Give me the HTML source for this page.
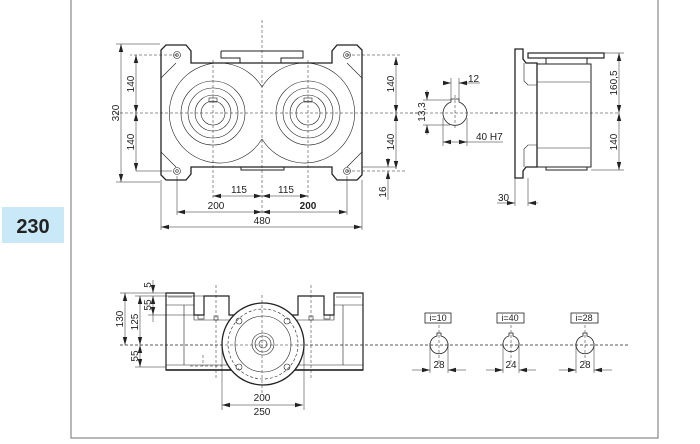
<!DOCTYPE html>
<html><head><meta charset="utf-8"><style>
html,body{margin:0;padding:0;background:#fff;}
svg{display:block;font-family:"Liberation Sans",Arial,sans-serif;}
text{font-size:10px;fill:#222;}
</style></head><body>
<svg width="700" height="444" viewBox="0 0 700 444">
<defs>
<marker id="a" markerWidth="8" markerHeight="6" refX="8" refY="3" orient="auto-start-reverse" markerUnits="userSpaceOnUse"><path d="M0,0.8 L8,3 L0,5.2z" fill="#222"/></marker>
</defs>
<rect x="71" y="-2" width="587" height="440" fill="none" stroke="#888" stroke-width="1.2"/>
<rect x="2" y="207" width="62" height="36" fill="#c9e9f9"/>
<text x="33" y="233" text-anchor="middle" style="font-size:20px;font-weight:bold;fill:#222">230</text>

<g fill="none" stroke="#222" stroke-width="0.6">
<g stroke-dasharray="3,2" stroke-width="0.5">
<line x1="262" y1="20" x2="262" y2="215"/>
<line x1="115" y1="113" x2="420" y2="113"/>
<line x1="213" y1="60" x2="213" y2="200"/>
<line x1="308" y1="60" x2="308" y2="200"/>
<line x1="177" y1="55" x2="130" y2="55"/>
<line x1="347" y1="55" x2="400" y2="55"/>
<line x1="347" y1="171" x2="405" y2="171"/>
<line x1="410" y1="113" x2="500" y2="113"/>
<line x1="455" y1="95" x2="455" y2="130"/>
<line x1="490" y1="113" x2="620" y2="113"/>
</g>
<path d="M166,45 h20 l5,6 v12 h141 v-12 l5,-6 h20 l5,5 v125 l-5,5 h-20 l-5,-6 v-7 h-141 v7 l-5,6 h-20 l-5,-5 v-125z" stroke-width="1.3"/>
<path d="M221,51 h82 v7 h-22 v5 h-19 M221,51 v7 h19 v5" stroke-width="1"/>
<rect x="241" y="167" width="43" height="3" stroke-width="1"/>
<line x1="161" y1="78" x2="176" y2="63"/>
<line x1="161" y1="152" x2="176" y2="167"/>
<line x1="362" y1="78" x2="347" y2="63"/>
<line x1="362" y1="152" x2="347" y2="167"/>
<circle cx="177" cy="55" r="3.5"/><circle cx="177" cy="55" r="1.3"/>
<circle cx="347" cy="55" r="3.5"/><circle cx="347" cy="55" r="1.3"/>
<circle cx="177" cy="171" r="3.5"/><circle cx="177" cy="171" r="1.3"/>
<circle cx="347" cy="171" r="3.5"/><circle cx="347" cy="171" r="1.3"/>
<path d="M262,87 A50,50 0 1 0 262,139 M262,87 A50,50 0 1 1 262,139"/>
<g><circle cx="213" cy="113" r="32"/><circle cx="213" cy="113" r="25"/><circle cx="213" cy="113" r="18"/><circle cx="213" cy="113" r="12"/><rect x="209" y="98" width="8" height="4"/></g>
<g><circle cx="308" cy="113" r="32"/><circle cx="308" cy="113" r="25"/><circle cx="308" cy="113" r="18"/><circle cx="308" cy="113" r="12"/><rect x="304" y="98" width="8" height="4"/></g>
<g stroke-width="0.5">
<line x1="116" y1="44" x2="160" y2="44"/><line x1="116" y1="182" x2="160" y2="182"/>
<line x1="121" y1="44" x2="121" y2="182" marker-start="url(#a)" marker-end="url(#a)"/>
<line x1="136" y1="55" x2="136" y2="113" marker-start="url(#a)" marker-end="url(#a)"/>
<line x1="136" y1="113" x2="136" y2="171" marker-start="url(#a)" marker-end="url(#a)"/>
<line x1="136" y1="171" x2="172" y2="171"/>
<line x1="396" y1="57" x2="396" y2="113" marker-start="url(#a)" marker-end="url(#a)"/>
<line x1="396" y1="113" x2="396" y2="169" marker-start="url(#a)" marker-end="url(#a)"/>
<line x1="362" y1="167" x2="395" y2="167"/>
<line x1="388" y1="158" x2="388" y2="167" marker-end="url(#a)"/>
<line x1="388" y1="180" x2="388" y2="171" marker-end="url(#a)"/>
<line x1="388" y1="180" x2="388" y2="200"/>
<line x1="161" y1="180" x2="161" y2="230"/><line x1="362" y1="180" x2="362" y2="230"/>
<line x1="177" y1="176" x2="177" y2="215"/><line x1="347" y1="176" x2="347" y2="215"/>
<line x1="213" y1="196" x2="262" y2="196" marker-start="url(#a)" marker-end="url(#a)"/>
<line x1="262" y1="196" x2="308" y2="196" marker-start="url(#a)" marker-end="url(#a)"/>
<line x1="177" y1="212" x2="262" y2="212" marker-start="url(#a)" marker-end="url(#a)"/>
<line x1="262" y1="212" x2="347" y2="212" marker-start="url(#a)" marker-end="url(#a)"/>
<line x1="161" y1="227" x2="362" y2="227" marker-start="url(#a)" marker-end="url(#a)"/>
</g>
<path d="M451,102 v-3 h8 v3 A12,12 0 1 1 451,102z" stroke-width="0.8"/>
<g stroke-width="0.5">
<line x1="451" y1="78" x2="451" y2="99"/><line x1="459" y1="78" x2="459" y2="99"/>
<line x1="443" y1="83" x2="451" y2="83" marker-end="url(#a)"/><line x1="467" y1="83" x2="459" y2="83" marker-end="url(#a)"/><line x1="459" y1="83" x2="480" y2="83"/>
<line x1="423" y1="100" x2="451" y2="100"/><line x1="423" y1="125" x2="450" y2="125"/>
<line x1="427" y1="90" x2="427" y2="100" marker-end="url(#a)"/><line x1="427" y1="135" x2="427" y2="125" marker-end="url(#a)"/>
<line x1="443" y1="118" x2="443" y2="146"/><line x1="467" y1="118" x2="467" y2="146"/>
<line x1="443" y1="142" x2="467" y2="142" marker-start="url(#a)" marker-end="url(#a)"/><line x1="467" y1="142" x2="503" y2="142"/>
</g>
<path d="M515,49 h8 v10 l3,4 h11 v104 h-11 l-3,4 v7 h-8z" stroke-width="1.3"/>
<rect x="528" y="53" width="76" height="5" stroke-width="1.2"/>
<rect x="537" y="64" width="54" height="103" stroke-width="1"/>
<path d="M546,58 v6 h41 v-6 M546,167 v3 h41 v-3" stroke-width="1"/>
<path d="M524,63 v18 l4,4 h9 M524,167 v-18 l4,-4 h9"/>
<line x1="537" y1="82" x2="590" y2="82"/><line x1="537" y1="148" x2="590" y2="148"/>
<g stroke-width="0.5">
<line x1="604" y1="53" x2="624" y2="53"/><line x1="591" y1="170" x2="624" y2="170"/>
<line x1="619" y1="53" x2="619" y2="113" marker-start="url(#a)" marker-end="url(#a)"/>
<line x1="619" y1="113" x2="619" y2="170" marker-start="url(#a)" marker-end="url(#a)"/>
<line x1="515" y1="178" x2="515" y2="206"/><line x1="528" y1="178" x2="528" y2="206"/>
<line x1="497" y1="203" x2="515" y2="203" marker-end="url(#a)"/><line x1="538" y1="203" x2="528" y2="203" marker-end="url(#a)"/>
</g>
<!-- bottom view -->
<path d="M166,370 V293 H194 V315 H204 V296 H229 V315 H298 V296 H324 V315 H334 V293 H363 V370 Z" stroke-width="1.2"/>
<line x1="166" y1="370" x2="363" y2="370" stroke-width="1.4"/>
<line x1="166" y1="305" x2="194" y2="305"/><line x1="334" y1="305" x2="363" y2="305"/>
<line x1="168" y1="297" x2="192" y2="297"/><line x1="336" y1="297" x2="361" y2="297"/>
<line x1="184" y1="305" x2="184" y2="365"/><line x1="343" y1="305" x2="343" y2="365"/>
<line x1="166" y1="365" x2="363" y2="365"/>
<path d="M194,315 v5 h42 M290,320 h44 v-5"/>
<rect x="214" y="316" width="4" height="4"/><rect x="309" y="316" width="4" height="4"/>
<rect x="198" y="315" width="6" height="4"/><rect x="324" y="315" width="6" height="4"/>
<g stroke-dasharray="3,2" stroke-width="0.5">
<line x1="120" y1="345" x2="630" y2="345"/>
<line x1="216" y1="285" x2="216" y2="380"/><line x1="311" y1="285" x2="311" y2="380"/>
<line x1="439" y1="325" x2="439" y2="362"/><line x1="511" y1="325" x2="511" y2="362"/><line x1="585" y1="325" x2="585" y2="362"/>
<line x1="190" y1="366" x2="222" y2="366"/><line x1="203" y1="355" x2="203" y2="366"/>
</g>
<circle cx="263" cy="344" r="41" fill="#fff" stroke-width="1.3"/>
<circle cx="263" cy="344" r="35" stroke-dasharray="3,2"/>
<circle cx="263" cy="344" r="28"/>
<circle cx="263" cy="344" r="11"/><circle cx="263" cy="344" r="8"/><circle cx="263" cy="344" r="4"/>
<circle cx="239" cy="321" r="3"/><circle cx="287" cy="321" r="3"/><circle cx="239" cy="367" r="3"/><circle cx="287" cy="367" r="3"/>
<g stroke-dasharray="3,2" stroke-width="0.5">
<line x1="120" y1="345" x2="630" y2="345"/>
<line x1="262" y1="295" x2="262" y2="395"/>
</g>
<g stroke-width="0.5">
<line x1="222" y1="346" x2="222" y2="410"/><line x1="304" y1="346" x2="304" y2="410"/>
<line x1="120" y1="293" x2="166" y2="293"/><line x1="135" y1="296" x2="204" y2="296"/><line x1="148" y1="315" x2="194" y2="315"/><line x1="135" y1="367" x2="166" y2="367"/>
<line x1="125" y1="293" x2="125" y2="345" marker-start="url(#a)" marker-end="url(#a)"/>
<line x1="140" y1="296" x2="140" y2="345" marker-start="url(#a)" marker-end="url(#a)"/>
<line x1="140" y1="345" x2="140" y2="367" marker-start="url(#a)" marker-end="url(#a)"/>
<line x1="153" y1="280" x2="153" y2="293" marker-end="url(#a)"/>
<line x1="153" y1="296" x2="153" y2="315" marker-start="url(#a)" marker-end="url(#a)"/>
<line x1="153" y1="315" x2="153" y2="322"/>
<line x1="222" y1="405" x2="303" y2="405" marker-start="url(#a)" marker-end="url(#a)"/>
</g>
<rect x="425" y="313" width="26" height="10" stroke-width="0.8"/>
<rect x="497" y="313" width="27" height="10" stroke-width="0.8"/>
<rect x="571" y="313" width="27" height="10" stroke-width="0.8"/>
<path d="M437,336 v-3 h4 v3 A9,9 0 1 1 437,336z" stroke-width="0.8"/>
<path d="M509,336 v-3 h4 v3 A8,8 0 1 1 509,336z" stroke-width="0.8"/>
<path d="M583,336 v-3 h4 v3 A9,9 0 1 1 583,336z" stroke-width="0.8"/>
<g stroke-width="0.5">
<line x1="430" y1="343" x2="430" y2="373"/><line x1="448" y1="343" x2="448" y2="373"/>
<line x1="412" y1="370" x2="430" y2="370" marker-end="url(#a)"/><line x1="466" y1="370" x2="448" y2="370" marker-end="url(#a)"/>
<line x1="503" y1="343" x2="503" y2="373"/><line x1="519" y1="343" x2="519" y2="373"/>
<line x1="486" y1="370" x2="503" y2="370" marker-end="url(#a)"/><line x1="536" y1="370" x2="519" y2="370" marker-end="url(#a)"/>
<line x1="576" y1="343" x2="576" y2="373"/><line x1="594" y1="343" x2="594" y2="373"/>
<line x1="559" y1="370" x2="576" y2="370" marker-end="url(#a)"/><line x1="612" y1="370" x2="594" y2="370" marker-end="url(#a)"/>
</g>
</g>
<text transform="translate(119,113) rotate(-90)" text-anchor="middle">320</text>
<text transform="translate(134,84) rotate(-90)" text-anchor="middle">140</text>
<text transform="translate(134,142) rotate(-90)" text-anchor="middle">140</text>
<text transform="translate(394,84) rotate(-90)" text-anchor="middle">140</text>
<text transform="translate(394,142) rotate(-90)" text-anchor="middle">140</text>
<text transform="translate(386,192) rotate(-90)" text-anchor="middle">16</text>
<text x="239" y="193" text-anchor="middle">115</text>
<text x="286" y="193" text-anchor="middle">115</text>
<text x="216" y="209" text-anchor="middle">200</text>
<text x="308" y="209" text-anchor="middle" style="font-weight:bold">200</text>
<text x="262" y="224" text-anchor="middle">480</text>
<text x="468" y="82">12</text>
<text transform="translate(425,112) rotate(-90)" text-anchor="middle">13,3</text>
<text x="476" y="140">40 H7</text>
<text transform="translate(617,83) rotate(-90)" text-anchor="middle">160,5</text>
<text transform="translate(617,142) rotate(-90)" text-anchor="middle">140</text>
<text x="498" y="201">30</text>
<text transform="translate(151,285) rotate(-90)" text-anchor="middle">5</text>
<text transform="translate(151,305) rotate(-90)" text-anchor="middle">55</text>
<text transform="translate(123,319) rotate(-90)" text-anchor="middle">130</text>
<text transform="translate(138,322) rotate(-90)" text-anchor="middle">125</text>
<text transform="translate(138,356) rotate(-90)" text-anchor="middle">55</text>
<text x="262" y="401" text-anchor="middle">200</text>
<text x="262" y="415" text-anchor="middle">250</text>
<text x="438" y="321" text-anchor="middle" style="font-size:9px">i=10</text>
<text x="510" y="321" text-anchor="middle" style="font-size:9px">i=40</text>
<text x="584" y="321" text-anchor="middle" style="font-size:9px">i=28</text>
<text x="439" y="368" text-anchor="middle">28</text>
<text x="511" y="368" text-anchor="middle">24</text>
<text x="585" y="368" text-anchor="middle">28</text>
</svg>
</body></html>
